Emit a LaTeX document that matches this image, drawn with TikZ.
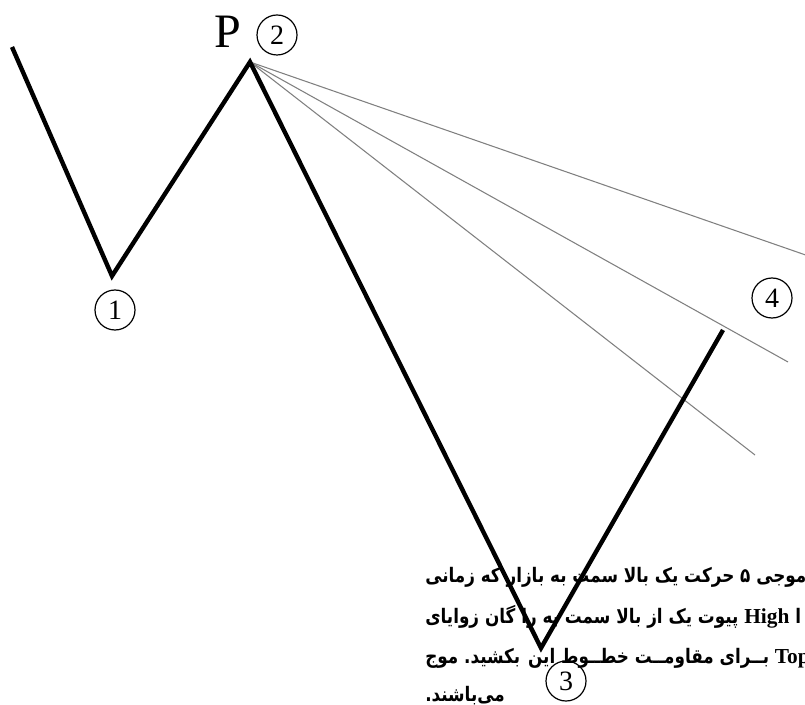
\documentclass[tikz,border=0pt]{standalone}
\usepackage{fontspec}
\setmainfont{Liberation Serif}
\newfontfamily\fa[Script=Arabic,FakeStretch=0.84]{DejaVu Sans}
\begin{document}
\begin{tikzpicture}[x=0.75pt,y=-0.75pt,
  wave/.style={line width=3.3pt, line join=miter, line cap=butt, black},
  gann/.style={line width=0.8pt, black!50},
  numc/.style={circle, draw, line width=0.9pt, minimum size=30pt, inner sep=0pt, font=\fontsize{21}{21}\selectfont},
  faline/.style={anchor=base west, inner sep=0pt, font=\fa\bfseries\fontsize{15}{15}\selectfont}]
\useasboundingbox (0,0) rectangle (805,705);
\clip (0,0) rectangle (805,705);
% wave points
\coordinate (s0) at (12,47);
\coordinate (w1) at (112,276);
\coordinate (w2) at (250,62);
\coordinate (w3) at (541,648);
\coordinate (w4) at (723,330);
% gann line ends
\coordinate (g1) at (820,260);
\coordinate (g2) at (788,362);
\coordinate (g3) at (755,455);
\draw[gann] (w2) -- (g1);
\draw[gann] (w2) -- (g2);
\draw[gann] (w2) -- (g3);
\draw[wave] (s0) -- (w1) -- (w2) -- (w3) -- (w4);
% labels
\node[inner sep=0pt, font=\fontsize{36}{36}\selectfont] (P) at (228,32) {P};
\node[numc] (n2) at (277,35) {2};
\node[numc] (n1) at (115,310) {1};
\node[numc] (n3) at (566,681) {3};
\node[numc] (n4) at (772,298) {4};
% text
\node[faline] (t1) at (425,582) {زمانی که بازار به سمت بالا یک حرکت ۵ موجی};
\node[faline] (t2) at (425,623) {زوایای گان را به سمت بالا از یک پیوت {\rmfamily\bfseries\fontsize{16}{16}\selectfont High} ا};
\node[faline] (t3) at (425,663) {موج بکشید. این خطــوط مقاومــت بــرای {\rmfamily\bfseries\fontsize{16}{16}\selectfont Top}};
\node[faline] (t4) at (425,701) {می‌باشند.};
\end{tikzpicture}
\end{document}
